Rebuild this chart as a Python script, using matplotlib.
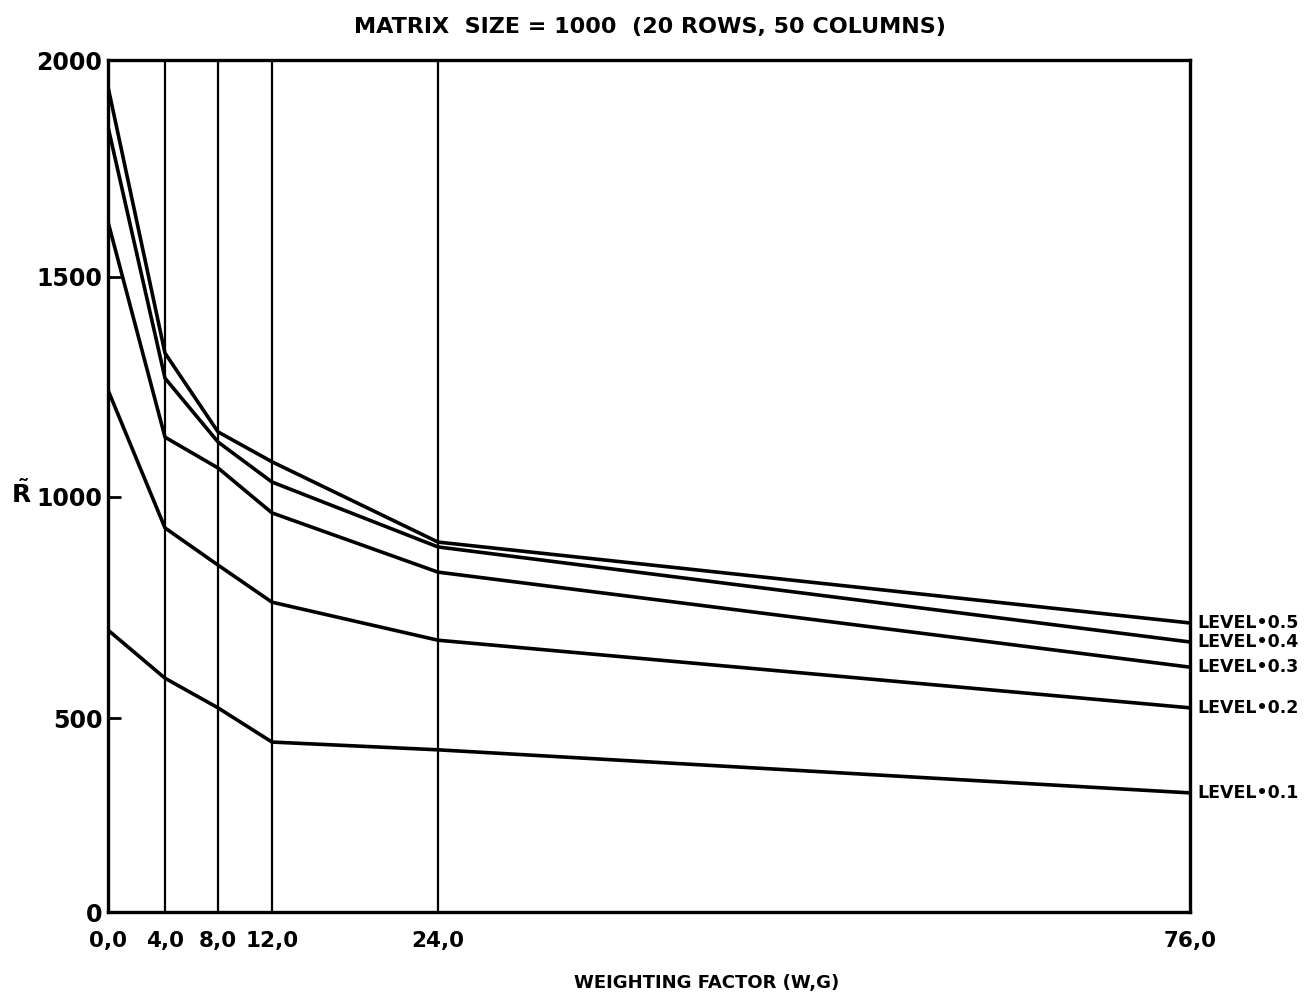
import numpy as np
import matplotlib.pyplot as plt

# weighting factor values where the curves were computed
weights = [0, 4, 8, 12, 24, 76]
tick_labels = ["0,0", "4,0", "8,0", "12,0", "24,0", "76,0"]

# mean R for each threshold level
level_05 = [1938, 1327, 1148, 1080, 898, 715]
level_04 = [1846, 1270, 1125, 1034, 887, 672]
level_03 = [1627, 1136, 1066, 964, 830, 615]
level_02 = [1243, 930, 846, 762, 676, 523]
level_01 = [699, 590, 523, 438, 418, 307]

levels = ["LEVEL\u20220.5", "LEVEL\u20220.4", "LEVEL\u20220.3", "LEVEL\u20220.2", "LEVEL\u20220.1"]
series = [level_05, level_04, level_03, level_02, level_01]
y_ticks = [0, 500, 1000, 1500, 2000]

# the hand drawn original is not quite evenly spaced; piecewise scale knots
x_knots = [0, 4, 8, 12, 24, 76]
x_pos = [0, 57, 110, 164, 330, 1082]
y_knots = [0, 500, 1000, 1500, 2000]
y_pos = [0, 194, 415, 635, 852]


def fwd(k, p):
    return lambda v: np.interp(v, k, p)


def inv(k, p):
    return lambda v: np.interp(v, p, k)


plt.rcParams['font.family'] = ['DejaVu Sans']
plt.rcParams['mathtext.fontset'] = 'dejavusans'

fig = plt.figure(figsize=(13.12, 9.99), dpi=100)
ax = fig.add_axes([108 / 1312, 87 / 999, 1082 / 1312, 852 / 999])
ax.set_xscale('function', functions=(fwd(x_knots, x_pos), inv(x_knots, x_pos)))
ax.set_yscale('function', functions=(fwd(y_knots, y_pos), inv(y_knots, y_pos)))
ax.set_xlim(0, 76)
ax.set_ylim(0, 2000)

# vertical guide lines at the computed weights
for w in weights[1:-1]:
    ax.axvline(w, color='black', linewidth=1.6, zorder=1)

for name, vals in zip(levels, series):
    ax.plot(weights, vals, color='black', linewidth=2.6, zorder=2)
    ax.annotate(name, xy=(weights[-1], vals[-1]), xytext=(5, 0),
                textcoords='offset points', va='center', ha='left',
                fontsize=12.5, fontweight='bold', annotation_clip=False)

ax.set_xticks(weights)
ax.set_xticklabels(tick_labels, fontsize=15.5, fontweight='bold')
ax.set_xticks([], minor=True)
ax.set_yticks(y_ticks)
ax.set_yticklabels([str(t) for t in y_ticks], fontsize=17, fontweight='bold')
ax.set_yticks([], minor=True)
ax.tick_params(axis='y', direction='in', length=9, width=2, pad=4)
ax.tick_params(axis='x', length=0, pad=14)

for spine in ax.spines.values():
    spine.set_linewidth(2.4)

fig.text(650 / 1312, 1 - 27 / 999, "MATRIX  SIZE = 1000  (20 ROWS, 50 COLUMNS)",
         fontsize=16, fontweight='bold', ha='center', va='center')
fig.text(707 / 1312, 1 - 983 / 999, "WEIGHTING FACTOR (W,G)",
         fontsize=13, fontweight='bold', ha='center', va='center')
fig.text(21 / 1312, 1 - 494 / 999, r'$\mathbf{\tilde{R}}$',
         fontsize=18, va='center', ha='center')

fig.savefig("out.png", dpi=100)
